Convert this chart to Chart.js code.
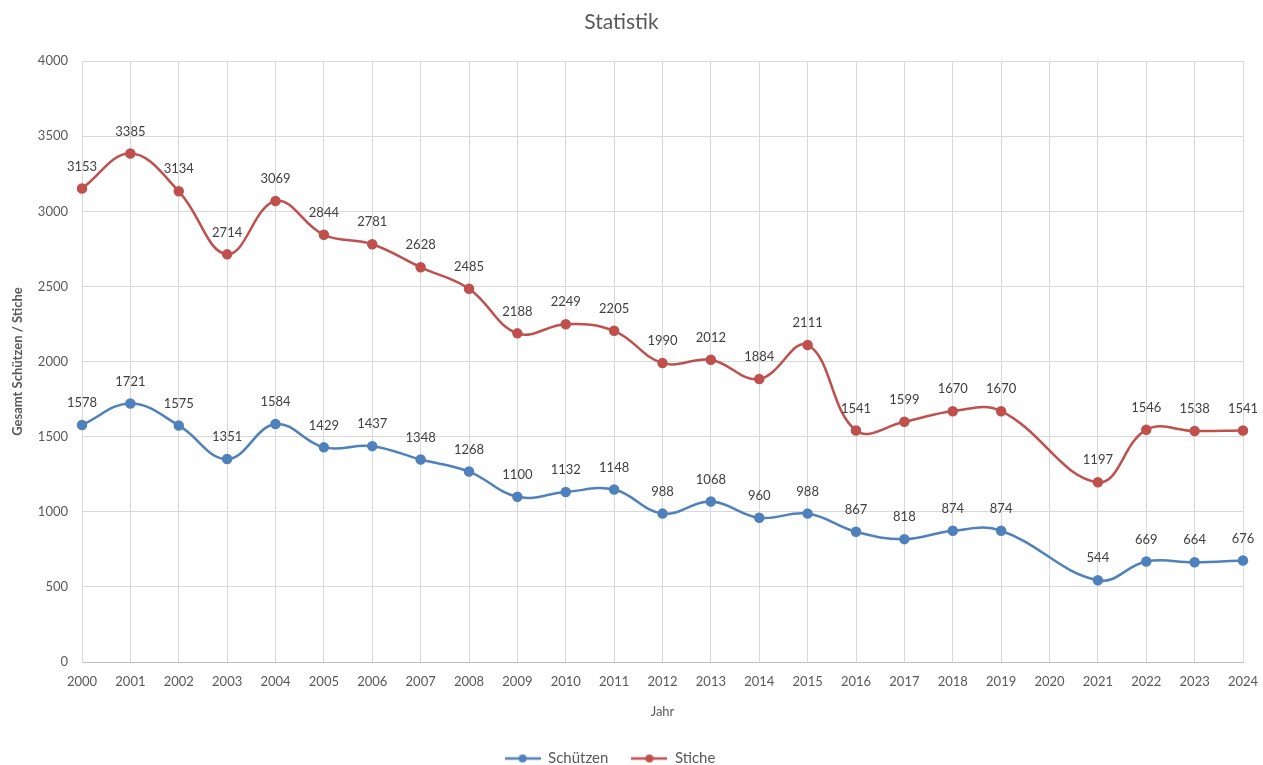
<!DOCTYPE html>
<html>
<head>
<meta charset="utf-8">
<script src="https://cdn.jsdelivr.net/npm/chart.js@4"></script>
<style>
  html, body { margin: 0; padding: 0; background: #fff; }
  #wrap { width: 1263px; height: 765px; }
</style>
</head>
<body>
<div id="wrap"><canvas id="chart"></canvas></div>
<script>
// Daten
const jahre = ['2000','2001','2002','2003','2004','2005','2006','2007','2008','2009','2010','2011','2012',
  '2013','2014','2015','2016','2017','2018','2019','2020','2021','2022','2023','2024'];
const schuetzen = [1578,1721,1575,1351,1584,1429,1437,1348,1268,1100,1132,1148,988,1068,960,988,867,818,874,874,null,544,669,664,676];
const stiche = [3153,3385,3134,2714,3069,2844,2781,2628,2485,2188,2249,2205,1990,2012,1884,2111,1541,1599,1670,1670,null,1197,1546,1538,1541];

const FONT = 'Lato, "Open Sans", sans-serif';
const TEXT = '#595959';

// Legendensymbol: Linie mit Punkt
function legendIcon(color) {
  const c = document.createElement('canvas');
  c.width = 36; c.height = 10;
  const g = c.getContext('2d');
  g.strokeStyle = color; g.lineWidth = 2.5;
  g.beginPath(); g.moveTo(0, 5); g.lineTo(36, 5); g.stroke();
  g.fillStyle = color;
  g.beginPath(); g.arc(18, 5, 4, 0, Math.PI * 2); g.fill();
  return c;
}

// Werte über die Punkte schreiben
const valueLabels = {
  id: 'valueLabels',
  afterDatasetsDraw(chart) {
    const ctx = chart.ctx;
    ctx.save();
    ctx.font = '13px ' + FONT;
    ctx.fillStyle = '#404040';
    ctx.textAlign = 'center';
    ctx.textBaseline = 'middle';
    chart.data.datasets.forEach((ds, i) => {
      chart.getDatasetMeta(i).data.forEach((pt, j) => {
        if (ds.data[j] == null) return;
        ctx.fillText(ds.data[j], pt.x, pt.y - 22);
      });
    });
    ctx.restore();
  }
};

const ctx = document.getElementById('chart').getContext('2d');
new Chart(ctx, {
  type: 'line',
  data: {
    labels: jahre,
    datasets: [{
      label: 'Schützen',
      data: schuetzen,
      borderColor: '#4f81bd',
      backgroundColor: '#4f81bd',
      borderWidth: 2.5,
      pointRadius: 4,
      pointHoverRadius: 4,
      tension: 0.4,
      spanGaps: true,
    }, {
      label: 'Stiche',
      data: stiche,
      borderColor: '#c0504d',
      backgroundColor: '#c0504d',
      borderWidth: 2.5,
      pointRadius: 4,
      pointHoverRadius: 4,
      tension: 0.4,
      spanGaps: true,
    }],
  },
  options: {
    responsive: true,
    maintainAspectRatio: false,
    animation: false,
    layout: { padding: { left: 0, right: 20, top: 0, bottom: -11 } },
    plugins: {
      title: {
        display: true,
        text: 'Statistik',
        color: TEXT,
        font: { family: FONT, size: 21, weight: 'normal' },
        padding: { top: 10, bottom: 26 },
      },
      legend: {
        position: 'bottom',
        labels: {
          color: TEXT,
          font: { family: FONT, size: 15 },
          usePointStyle: true,
          pointStyleWidth: 36,
          padding: 0,
          boxHeight: 10,
          generateLabels(chart) {
            return chart.data.datasets.map((ds, i) => ({
              text: ds.label + '      ',
              pointStyle: legendIcon(ds.borderColor),
              fontColor: TEXT,
              datasetIndex: i,
              hidden: false,
              lineWidth: 0,
            }));
          },
        },
      },
      tooltip: { enabled: false },
    },
    scales: {
      x: {
        offset: false,
        grid: { color: '#d9d9d9', drawTicks: false },
        border: { color: '#bfbfbf' },
        ticks: { color: TEXT, font: { family: FONT, size: 13 }, padding: 12, maxRotation: 0, autoSkip: false },
        title: {
          display: true, text: 'Jahr', color: TEXT,
          font: { family: FONT, size: 13 },
          padding: { top: 10, bottom: 31 },
        },
        afterFit(scale) { scale.height = 89; scale.paddingRight = 0; },
      },
      y: {
        min: 0,
        max: 4000,
        ticks: {
          stepSize: 500, color: TEXT, font: { family: FONT, size: 13 }, padding: 14,
          callback: (v) => String(v),
        },
        grid: { color: '#d9d9d9', drawTicks: false },
        border: { color: '#d9d9d9' },
        title: {
          display: true, text: 'Gesamt Schützen / Stiche', color: TEXT,
          font: { family: FONT, size: 13, weight: 'bold' },
          padding: { top: 10, bottom: 0 },
        },
        afterFit(scale) { scale.width = 82; },
      },
    },
  },
  plugins: [valueLabels],
});
</script>
</body>
</html>
